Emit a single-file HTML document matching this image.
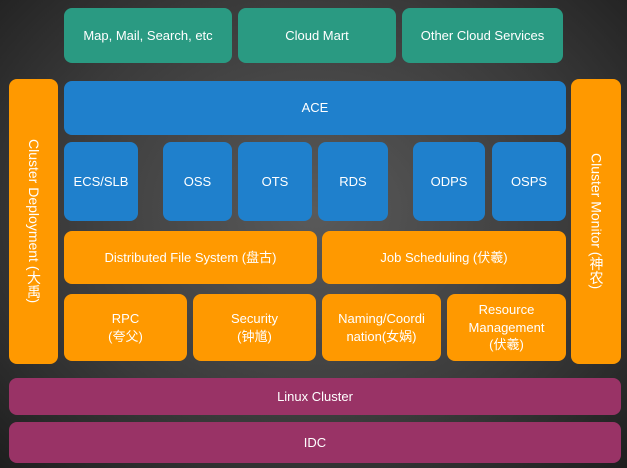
<!DOCTYPE html>
<html><head><meta charset="utf-8"><style>
body{margin:0;width:627px;height:468px;overflow:hidden;background:radial-gradient(ellipse at 50% 45%,#5a5a5a 0%,#3a3a3a 60%,#1e1e1e 100%);font-family:"Liberation Sans","Noto Sans CJK SC",sans-serif;}
.b{position:absolute;display:flex;align-items:center;justify-content:center;text-align:center;color:#fff;font-size:13px;border-radius:8px;line-height:1.35;}
.t{background:#2a9a82}.u{background:#1f80cc}.o{background:#ff9900}.p{background:#993366}
.v{writing-mode:vertical-rl;font-size:14px;}
</style></head><body>
<div class="b t" style="left:64px;top:8px;width:168px;height:55px">Map, Mail, Search, etc</div>
<div class="b t" style="left:238px;top:8px;width:158px;height:55px">Cloud Mart</div>
<div class="b t" style="left:402px;top:8px;width:161px;height:55px">Other Cloud Services</div>
<div class="b o v" style="left:9px;top:79px;width:49px;height:285px">Cluster Deployment (大禹)</div>
<div class="b o v" style="left:571px;top:79px;width:50px;height:285px">Cluster Monitor (神农)</div>
<div class="b u" style="left:64px;top:81px;width:502px;height:54px">ACE</div>
<div class="b u" style="left:64px;top:142px;width:74px;height:79px">ECS/SLB</div>
<div class="b u" style="left:163px;top:142px;width:69px;height:79px">OSS</div>
<div class="b u" style="left:238px;top:142px;width:74px;height:79px">OTS</div>
<div class="b u" style="left:318px;top:142px;width:70px;height:79px">RDS</div>
<div class="b u" style="left:413px;top:142px;width:72px;height:79px">ODPS</div>
<div class="b u" style="left:492px;top:142px;width:74px;height:79px">OSPS</div>
<div class="b o" style="left:64px;top:231px;width:253px;height:53px">Distributed File System (盘古)</div>
<div class="b o" style="left:322px;top:231px;width:244px;height:53px">Job Scheduling (伏羲)</div>
<div class="b o" style="left:64px;top:294px;width:123px;height:67px">RPC<br>(夸父)</div>
<div class="b o" style="left:193px;top:294px;width:123px;height:67px">Security<br>(钟馗)</div>
<div class="b o" style="left:322px;top:294px;width:119px;height:67px">Naming/Coordi<br>nation(女娲)</div>
<div class="b o" style="left:447px;top:294px;width:119px;height:67px">Resource<br>Management<br>(伏羲)</div>
<div class="b p" style="left:9px;top:378px;width:612px;height:37px">Linux Cluster</div>
<div class="b p" style="left:9px;top:422px;width:612px;height:41px">IDC</div>
</body></html>
